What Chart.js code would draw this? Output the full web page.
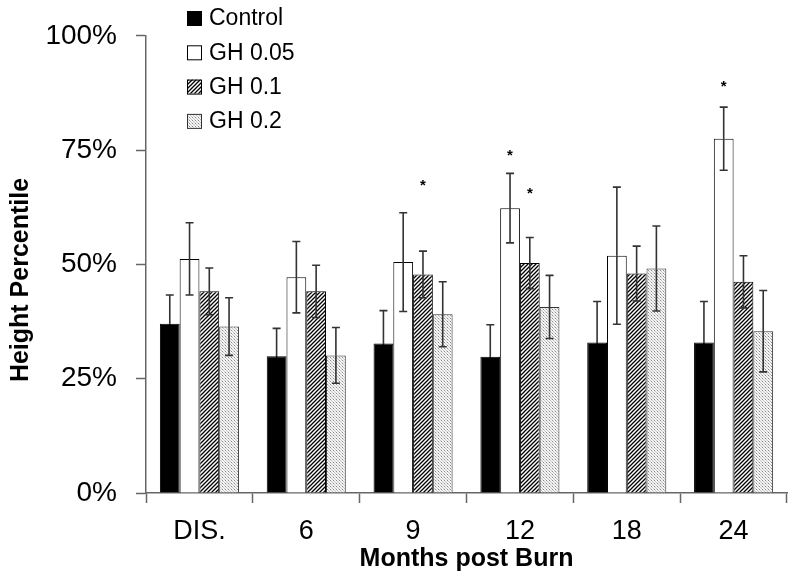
<!DOCTYPE html>
<html>
<head>
<meta charset="utf-8">
<script src="https://cdn.jsdelivr.net/npm/chart.js@4.4.0/dist/chart.umd.min.js"></script>
<style>
  body { margin: 0; background: #fff; }
  canvas { display: block; }
</style>
</head>
<body>
<canvas id="heightChart" width="800" height="582"></canvas>
<script>
// Categories (months post burn)
const months = ['DIS.', '6', '9', '12', '18', '24'];

// Series names
const seriesNames = ['Control', 'GH 0.05', 'GH 0.1', 'GH 0.2'];

// Bar values (height percentile, %)
const control = [37.0, 29.9, 32.7, 29.8, 32.9, 32.9];
const gh005 = [51.2, 47.2, 50.5, 62.3, 51.9, 77.5];
const gh01 = [44.1, 44.1, 47.8, 50.3, 48.0, 46.2];
const gh02 = [36.4, 30.1, 39.1, 40.7, 49.1, 35.4];

// Error bar half widths
const controlErr = [6.3, 6.1, 7.2, 7.0, 9.0, 9.0];
const gh005Err = [7.9, 7.8, 10.8, 7.6, 15.0, 6.9];
const gh01Err = [5.1, 5.7, 5.1, 5.6, 6.0, 5.7];
const gh02Err = [6.3, 6.1, 7.1, 6.9, 9.3, 8.9];

// Significance stars (value where the * sits, null = none)
const controlStar = [null, null, null, null, null, null];
const gh005Star = [null, null, null, 74.9, null, 89.8];
const gh01Star = [null, null, 68.3, 66.4, null, null];
const gh02Star = [null, null, null, null, null, null];

// y axis ticks
const yTicks = [0, 25, 50, 75, 100];

const FONT = "'Liberation Sans', Arial, sans-serif";

// hatch pattern ////
function makeHatch() {
  const c = document.createElement('canvas');
  c.width = 4; c.height = 4;
  const g = c.getContext('2d');
  g.fillStyle = '#fff';
  g.fillRect(0, 0, 4, 4);
  g.strokeStyle = '#000';
  g.lineWidth = 1.3;
  g.beginPath();
  g.moveTo(0, 4); g.lineTo(4, 0);
  g.moveTo(-1, 1); g.lineTo(1, -1);
  g.moveTo(3, 5); g.lineTo(5, 3);
  g.stroke();
  return g.createPattern(c, 'repeat');
}

// fine stipple pattern
function makeDots() {
  const c = document.createElement('canvas');
  c.width = 3; c.height = 3;
  const g = c.getContext('2d');
  g.fillStyle = '#f4f4f4';
  g.fillRect(0, 0, 3, 3);
  g.fillStyle = '#8a8a8a';
  g.fillRect(0, 0, 1, 1);
  g.fillStyle = '#c4c4c4';
  g.fillRect(1, 1, 1, 1);
  g.fillRect(2, 2, 1, 1);
  return g.createPattern(c, 'repeat');
}

const ctxMain = document.getElementById('heightChart').getContext('2d');
const fills = ['#000', '#fff', makeHatch(), makeDots()];
const borders = ['#000', '#000', '#000', '#333'];
const values = [control, gh005, gh01, gh02];
const errs = [controlErr, gh005Err, gh01Err, gh02Err];
const stars = [controlStar, gh005Star, gh01Star, gh02Star];
// lower whisker colour (hidden inside the black bar)
const lowColors = ['#000', '#333', '#333', '#333'];

const datasets = [];
for (let i = 0; i < seriesNames.length; i++) {
  datasets.push({
    label: seriesNames[i],
    data: values[i],
    backgroundColor: fills[i],
    borderColor: borders[i],
    borderWidth: 1,
    categoryPercentage: 0.74,
    barPercentage: 1.0
  });
}

// error bars, stars, y title and legend
const extras = {
  id: 'extras',
  afterDatasetsDraw(chart) {
    const ctx = chart.ctx;
    const y = chart.scales.y;
    ctx.save();
    // error bars
    ctx.lineWidth = 1.6;
    for (let d = 0; d < datasets.length; d++) {
      const meta = chart.getDatasetMeta(d);
      meta.data.forEach((bar, i) => {
        const v = values[d][i];
        const e = errs[d][i];
        const mid = y.getPixelForValue(v);
        const top = y.getPixelForValue(v + e);
        const bot = y.getPixelForValue(v - e);
        ctx.strokeStyle = '#333';
        ctx.beginPath();
        ctx.moveTo(bar.x, top); ctx.lineTo(bar.x, mid);
        ctx.moveTo(bar.x - 4, top); ctx.lineTo(bar.x + 4, top);
        ctx.stroke();
        ctx.strokeStyle = lowColors[d];
        ctx.beginPath();
        ctx.moveTo(bar.x, mid); ctx.lineTo(bar.x, bot);
        ctx.moveTo(bar.x - 4, bot); ctx.lineTo(bar.x + 4, bot);
        ctx.stroke();
      });
    }
    // stars
    ctx.fillStyle = '#000';
    ctx.font = 'bold 15px ' + FONT;
    ctx.textAlign = 'center';
    ctx.textBaseline = 'alphabetic';
    for (let d = 0; d < datasets.length; d++) {
      const meta = chart.getDatasetMeta(d);
      meta.data.forEach((bar, i) => {
        if (stars[d][i] === null) return;
        ctx.fillText('*', bar.x, y.getPixelForValue(stars[d][i]) + 9);
      });
    }
    ctx.restore();
  },
  afterDraw(chart) {
    const ctx = chart.ctx;
    ctx.save();
    // y axis title
    ctx.translate(21, 280);
    ctx.rotate(-Math.PI / 2);
    ctx.font = 'bold 25px ' + FONT;
    ctx.fillStyle = '#000';
    ctx.textAlign = 'center';
    ctx.textBaseline = 'middle';
    ctx.fillText('Height Percentile', 0, 0);
    ctx.restore();

    // legend
    ctx.save();
    ctx.font = '23px ' + FONT;
    ctx.textAlign = 'left';
    ctx.textBaseline = 'middle';
    for (let i = 0; i < seriesNames.length; i++) {
      const cy = 18 + i * 34.3;
      ctx.fillStyle = fills[i];
      ctx.fillRect(187, cy - 7, 14, 14);
      ctx.strokeStyle = borders[i];
      ctx.lineWidth = 1;
      ctx.strokeRect(187.5, cy - 6.5, 14, 14);
      ctx.fillStyle = '#000';
      ctx.fillText(seriesNames[i], 209, cy + 1);
    }
    ctx.restore();
  }
};

const chart = new Chart(ctxMain, {
  type: 'bar',
  data: { labels: months, datasets: datasets },
  options: {
    responsive: false,
    animation: false,
    layout: { padding: { top: 33, right: 13, left: 0, bottom: 0 } },
    plugins: {
      legend: { display: false },
      tooltip: { enabled: false }
    },
    scales: {
      x: {
        afterFit(scale) { scale.height = 89; },
        grid: {
          offset: true,
          drawOnChartArea: false,
          drawTicks: true,
          tickLength: 10,
          tickColor: '#666',
          tickWidth: 1.5
        },
        border: { display: true, color: '#666', width: 1.5 },
        ticks: {
          color: '#000',
          padding: 12,
          font: { family: FONT, size: 27 }
        },
        title: {
          display: true,
          text: 'Months post Burn',
          color: '#000',
          font: { family: FONT, size: 25, weight: 'bold' },
          padding: { top: 0, bottom: 8 }
        }
      },
      y: {
        min: 0,
        max: 100,
        afterFit(scale) { scale.width = 146; },
        afterBuildTicks(scale) { scale.ticks = yTicks.map(v => ({ value: v })); },
        grid: {
          drawOnChartArea: false,
          drawTicks: true,
          tickLength: 10,
          tickColor: '#666',
          tickWidth: 1.5
        },
        border: { display: true, color: '#666', width: 1.5 },
        ticks: {
          color: '#000',
          padding: 19,
          font: { family: FONT, size: 28 },
          callback: (v) => v + '%'
        }
      }
    }
  },
  plugins: [extras]
});
</script>
</body>
</html>
